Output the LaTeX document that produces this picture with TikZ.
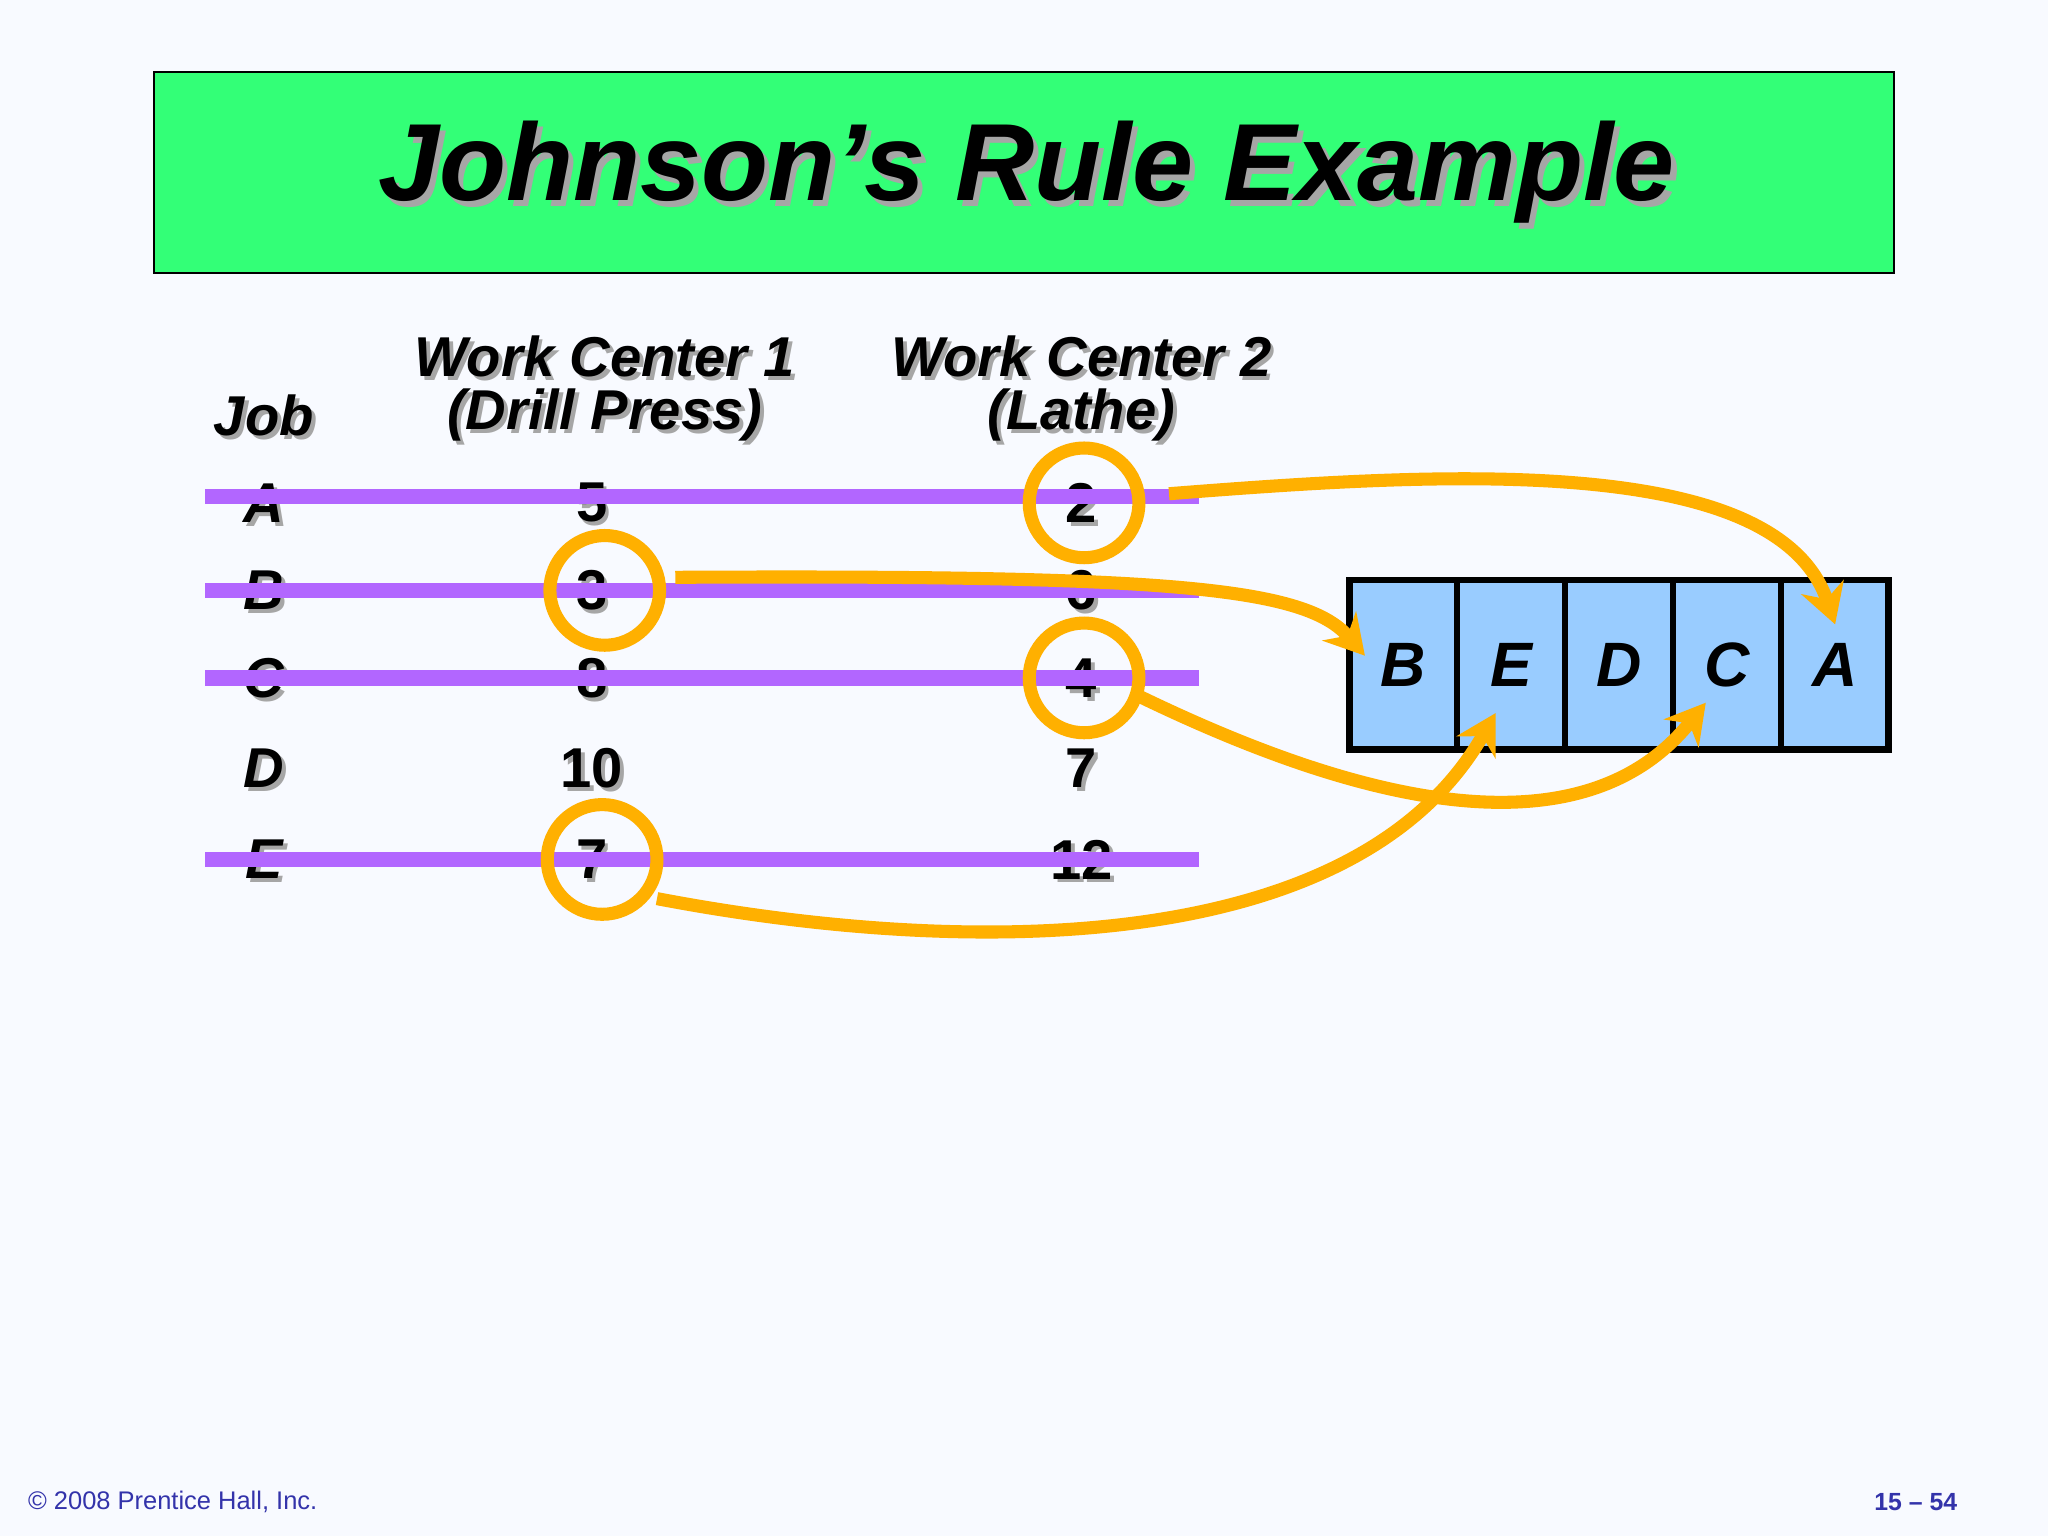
\documentclass[tikz,border=0pt]{standalone}
\usepackage{fontspec}
\setmainfont{Liberation Sans}
\usetikzlibrary{arrows.meta}
\definecolor{bg}{HTML}{F8FAFF}
\definecolor{ttl}{HTML}{33FF77}
\definecolor{purp}{HTML}{B266FF}
\definecolor{org}{HTML}{FFB000}
\definecolor{cell}{HTML}{99CCFF}
\definecolor{foot}{HTML}{3333AA}
\begin{document}
\begin{tikzpicture}[x=1pt,y=-1pt,
  sh/.style={font=\fontsize{43}{47}\selectfont\bfseries\itshape},
  tx/.style={sh,text=black},
  shd/.style={sh,text=gray!70},
  strike/.style={purp,line width=12pt},
  ring/.style={org,line width=10pt},
  arr/.style={org,line width=10pt,-{Stealth[length=30pt,width=34pt]}},
  cellb/.style={draw=black,line width=5pt,fill=cell,minimum width=82.6pt,minimum height=130pt,inner sep=0pt,font=\fontsize{48}{52}\selectfont\bfseries\itshape}]
\fill[bg] (0,0) rectangle (1568,1176);
\useasboundingbox (0,0) rectangle (1568,1176);
\node[draw=black,line width=1.2pt,fill=ttl,minimum width=1332pt,minimum height=154pt] (title) at (784,132) {};
\node[text=gray!70,font=\fontsize{84}{88}\selectfont\bfseries\itshape] at (790,136) {Johnson’s Rule Example};
\node[font=\fontsize{84}{88}\selectfont\bfseries\itshape] (tt) at (786,132) {Johnson’s Rule Example};
% headers
\foreach \t/\x/\y in {Job/202/318,Work Center 1/463/273,(Drill Press)/463/318,Work Center 2/828/273,(Lathe)/828/318}{
  \node[shd] at (\x+3,\y+3) {\t};
  \node[tx] at (\x,\y) {\t};}
% rows
\foreach \j/\a/\b/\y in {A/5/2/385,B/3/6/452,C/8/4/519,D/10/7/588,E/7/12/658}{
  \node[shd] at (205,\y+3) {\j}; \node[tx] (j\j) at (202,\y) {\j};
  \node[shd,font=\fontsize{43}{47}\selectfont\bfseries] at (456,\y+3) {\a}; \node[tx,font=\fontsize{43}{47}\selectfont\bfseries] (p\j) at (453,\y) {\a};
  \node[shd,font=\fontsize{43}{47}\selectfont\bfseries] at (831,\y+3) {\b}; \node[tx,font=\fontsize{43}{47}\selectfont\bfseries] (q\j) at (828,\y) {\b};}
% strike lines
\foreach \y in {380,452,519,658}{\draw[strike] (157,\y) -- (918,\y);}
% rings
\draw[ring] (830,385) circle (42);
\draw[ring] (463,452) circle (42);
\draw[ring] (830,519) circle (42);
\draw[ring] (461,658) circle (42);
% sequence boxes
\foreach \l/\i in {B/0,E/1,D/2,C/3,A/4}{
  \node[cellb] (c\l) at (1074.3+82.6*\i,509) {\l};}
% arrows
\coordinate (sA) at (895,378);
\coordinate (sB) at (517,442);
\coordinate (sC) at (870,532);
\coordinate (sE) at (503,688);
\draw[arr] (sA) .. controls (1100,362) and (1360,345) .. (1405,478);
\draw[arr] (sB) .. controls (900,440) and (1000,450) .. (1045,502);
\draw[arr] (sC) .. controls (1000,595) and (1200,670) .. (1306,538);
\draw[arr] (sE) .. controls (750,735) and (1040,730) .. (1145,546);
% footer
\node[anchor=west,text=foot,font=\fontsize{19.5}{21}\selectfont] at (18,1150) {© 2008 Prentice Hall, Inc.};
\node[anchor=east,text=foot,font=\fontsize{19}{21}\selectfont\bfseries] at (1502,1150) {15 – 54};
\end{tikzpicture}
\end{document}
